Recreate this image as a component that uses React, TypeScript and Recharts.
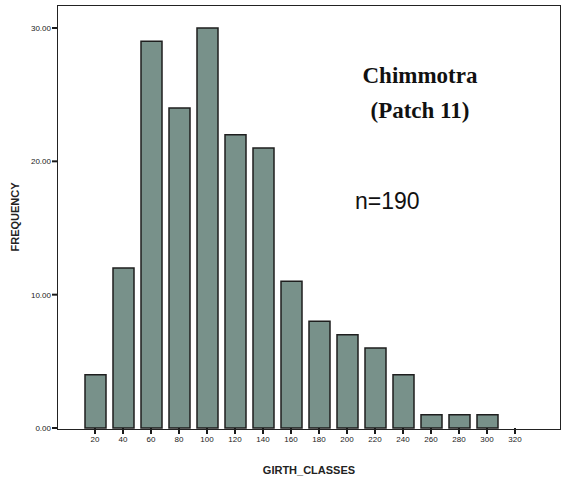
import { BarChart, Bar, XAxis, YAxis } from 'recharts';

// girth classes and how many trees fall in each
const classes = ['20', '40', '60', '80', '100', '120', '140', '160', '180', '200', '220', '240', '260', '280', '300', '320'];
const counts = [4, 12, 29, 24, 30, 22, 21, 11, 8, 7, 6, 4, 1, 1, 1, 0];
const yTicks = [0, 10, 20, 30];

const data = classes.map((c, i) => ({ girth: c, count: counts[i] }));

const font = 'Liberation Sans, Arial, sans-serif';
const lineColor = '#1a1a1a';
const W = 568;
const H = 482;
const X_AXIS_H = 54;
const Y_AXIS_W = 58;
const PLOT_BOTTOM = H - X_AXIS_H;
const PLOT_LEFT = Y_AXIS_W;
const TICK = 6;

// axis strokes don't show up here, so each tick draws its mark as a small filled rect
// hung off the plot edge; the label keeps the position recharts hands over
const XTick = ({ x, y, payload }: any) => (
  <g>
    <rect x={x - 1} y={PLOT_BOTTOM} width={2} height={TICK} fill={lineColor} />
    <text x={x} y={y + 1} dy="0.71em" textAnchor="middle" fontSize={8} fontFamily={font} fill="#222">
      {payload.value}
    </text>
  </g>
);

const YTick = ({ x, y, payload }: any) => (
  <g>
    <rect x={PLOT_LEFT - TICK} y={y - 1} width={TICK} height={2} fill={lineColor} />
    <text x={x} y={y} dy="0.355em" textAnchor="end" fontSize={8} fontFamily={font} fill="#222">
      {Number(payload.value).toFixed(2)}
    </text>
  </g>
);

export default function App() {
  return (
    <div style={{ position: 'absolute', left: 0, top: 0, width: W, height: H, background: '#fff' }}>
      <BarChart
        width={W}
        height={H}
        data={data}
        margin={{ top: 6, right: 8, bottom: 0, left: 0 }}
        barSize={21}
      >
        <XAxis
          dataKey="girth"
          height={X_AXIS_H}
          padding={{ left: 23, right: 31 }}
          axisLine={false}
          tickLine={{ stroke: 'none' }}
          tickSize={5}
          tickMargin={2}
          tick={<XTick />}
          interval={0}
          label={{
            value: 'GIRTH_CLASSES',
            position: 'insideBottom',
            offset: 8,
            style: { fill: '#222', fontSize: 11, fontWeight: 'bold', fontFamily: font },
          }}
        />
        <YAxis
          width={Y_AXIS_W}
          domain={[0, 31.65]}
          ticks={yTicks}
          axisLine={false}
          tickLine={{ stroke: 'none' }}
          tickSize={5}
          tickMargin={2}
          tick={<YTick />}
          label={{
            value: 'FREQUENCY',
            angle: -90,
            position: 'insideLeft',
            offset: 15,
            style: { fill: '#222', fontSize: 11, fontWeight: 'bold', fontFamily: font, textAnchor: 'middle' },
          }}
        />
        <Bar dataKey="count" fill="#78918a" stroke="#1e1e1e" strokeWidth={1.5} isAnimationActive={false} />
      </BarChart>
      {/* plot frame */}
      <div
        style={{
          position: 'absolute',
          left: 57,
          top: 5,
          width: 504,
          height: 424.5,
          border: '1.5px solid #222',
          boxSizing: 'border-box',
          pointerEvents: 'none',
        }}
      />
      <div
        style={{
          position: 'absolute',
          left: 300,
          top: 58,
          width: 240,
          textAlign: 'center',
          fontFamily: 'Liberation Serif, Times New Roman, serif',
          fontWeight: 'bold',
          fontSize: 23,
          lineHeight: '35px',
          color: '#111',
        }}
      >
        Chimmotra
        <br />
        (Patch 11)
      </div>
      <div
        style={{
          position: 'absolute',
          left: 355,
          top: 188,
          fontFamily: font,
          fontSize: 23,
          color: '#111',
        }}
      >
        n=190
      </div>
    </div>
  );
}
